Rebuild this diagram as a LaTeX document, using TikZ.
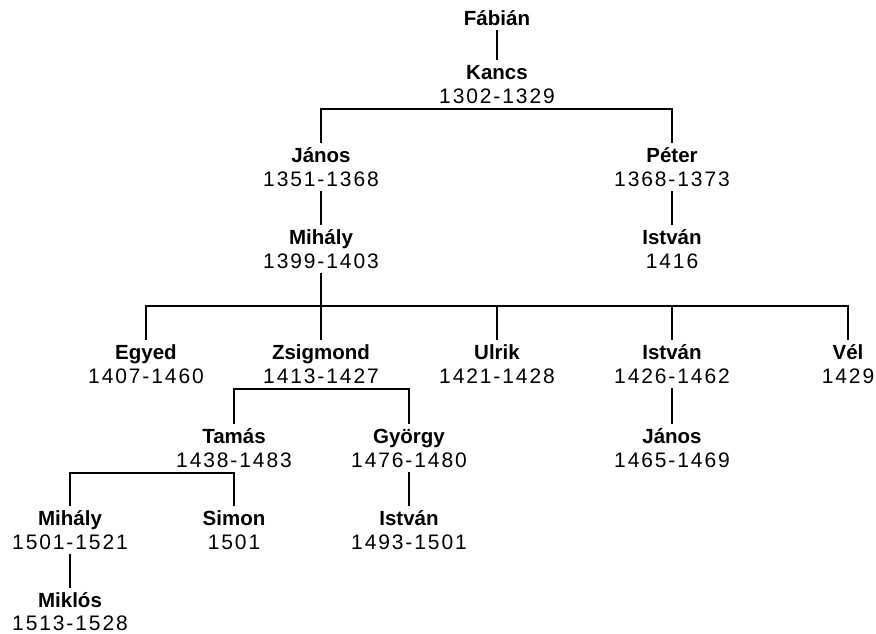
\documentclass[tikz,border=0pt]{standalone}
\usepackage{fontspec}
\setmainfont{Liberation Sans}
\newfontfamily\datefam[LetterSpace=9]{Liberation Sans}
\tikzset{
  nm/.style={font=\bfseries\fontsize{20.5}{22}\selectfont, text height=14.5pt, text depth=0pt, inner xsep=0pt, inner ysep=5pt},
  dt/.style={font=\datefam\fontsize{21}{22}\selectfont, text height=14.5pt, text depth=0pt, inner xsep=0pt, inner ysep=5pt},
  link/.style={line width=2pt}
}
\begin{document}
\begin{tikzpicture}[x=1pt,y=-1pt]
\useasboundingbox (0,0) rectangle (876,634);
% level 0
\node[nm] (fabian) at (497,18) {Fábián};
\node[nm] (kancs) at (497,72) {Kancs};
\node[dt] (kancsd) at (497,96) {1302-1329};
% level 1
\node[nm] (janos) at (321,155) {János};
\node[dt] (janosd) at (321,179) {1351-1368};
\node[nm] (peter) at (672,155) {Péter};
\node[dt] (peterd) at (672,179) {1368-1373};
% level 2
\node[nm] (mihaly) at (321,237) {Mihály};
\node[dt] (mihalyd) at (321,261) {1399-1403};
\node[nm] (istvan) at (672,237) {István};
\node[dt] (istvand) at (672,261) {1416};
% level 3
\node[nm] (egyed) at (146,352) {Egyed};
\node[dt] (egyedd) at (146,376) {1407-1460};
\node[nm] (zsigmond) at (321,352) {Zsigmond};
\node[dt] (zsigmondd) at (321,376) {1413-1427};
\node[nm] (ulrik) at (497,352) {Ulrik};
\node[dt] (ulrikd) at (497,376) {1421-1428};
\node[nm] (istvanb) at (672,352) {István};
\node[dt] (istvanbd) at (672,376) {1426-1462};
\node[nm] (vel) at (848,352) {Vél};
\node[dt] (veld) at (848,376) {1429};
% level 4
\node[nm] (tamas) at (234,436) {Tamás};
\node[dt] (tamasd) at (234,460) {1438-1483};
\node[nm] (gyorgy) at (409,436) {György};
\node[dt] (gyorgyd) at (409,460) {1476-1480};
\node[nm] (janosb) at (672,436) {János};
\node[dt] (janosbd) at (672,460) {1465-1469};
% level 5
\node[nm] (mihalyb) at (70,518) {Mihály};
\node[dt] (mihalybd) at (70,542) {1501-1521};
\node[nm] (simon) at (234,518) {Simon};
\node[dt] (simond) at (234,542) {1501};
\node[nm] (istvanc) at (409,518) {István};
\node[dt] (istvancd) at (409,542) {1493-1501};
% level 6
\node[nm] (miklos) at (70,600) {Miklós};
\node[dt] (miklosd) at (70,623) {1513-1528};
% connectors
\coordinate (b2) at (321,306);
\draw[link] (fabian.south) -- (kancs.north);
\draw[link] (janos.north) |- ([yshift=-0.75pt]kancsd.south) -| (peter.north);
\draw[link] (janosd.south) -- (mihaly.north);
\draw[link] (peterd.south) -- (istvan.north);
\draw[link] (mihalyd.south) -- (zsigmond.north);
\draw[link] (egyed.north) |- (b2) -| (vel.north);
\draw[link] (ulrik.north) -- (ulrik.north |- b2);
\draw[link] (istvanb.north) -- (istvanb.north |- b2);
\draw[link] (tamas.north) |- ([yshift=-0.75pt]zsigmondd.south) -| (gyorgy.north);
\draw[link] (istvanbd.south) -- (janosb.north);
\draw[link] (mihalyb.north) |- ([yshift=-0.75pt]tamasd.south) -- (simon.north);
\draw[link] (gyorgyd.south) -- (istvanc.north);
\draw[link] (mihalybd.south) -- (miklos.north);
\end{tikzpicture}
\end{document}
